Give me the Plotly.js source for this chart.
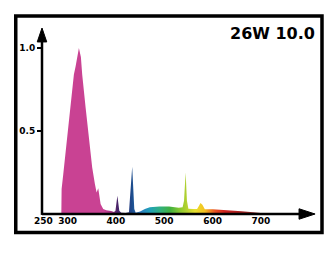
<!DOCTYPE html>
<html>
<head>
<meta charset="utf-8">
<script src="https://cdn.plot.ly/plotly-3.0.1.min.js"></script>
<style>
html,body{margin:0;padding:0;background:#fff;}
#chart{width:336px;height:253px;}
</style>
</head>
<body>
<div id="chart"></div>
<script>
// ---- data ----
var chartTitle = "26W 10.0";
var wavelengths = [287, 287.6, 291, 298, 306, 313, 316.6, 318.6, 323.4, 327.5, 330.2, 337.3, 344.7, 350.9, 356.5, 360, 363.4, 365.4, 368.3, 373.7, 380, 390, 396, 399, 403, 407, 411, 420, 427, 433.7, 438, 441, 450, 460, 470, 490, 510, 530, 538, 541, 544.3, 547, 550, 560, 568, 572, 575, 579, 584, 600, 620, 642, 660, 684, 705, 720];
var intensity   = [0, 0.15, 0.24, 0.44, 0.64, 0.84, 0.89, 0.92, 1.0, 0.945, 0.84, 0.64, 0.44, 0.28, 0.18, 0.13, 0.155, 0.10, 0.06, 0.03, 0.022, 0.018, 0.012, 0.02, 0.11, 0.02, 0.008, 0.006, 0.01, 0.285, 0.03, 0.008, 0.015, 0.03, 0.04, 0.045, 0.045, 0.038, 0.04, 0.08, 0.25, 0.08, 0.032, 0.03, 0.03, 0.05, 0.066, 0.055, 0.028, 0.028, 0.025, 0.022, 0.016, 0.01, 0.005, 0];
var xTickVals  = [250, 300, 400, 500, 600, 700];
var xTickText  = ["250", "300", "400", "500", "600", "700"];
var yTickVals  = [0.5, 1.0];
var yTickText  = ["0.5", "1.0"];
// spectral colour stops (wavelength -> colour)
var colorStopNm  = [285, 375, 392, 402, 418, 433, 450, 470, 491, 512, 532, 545, 564, 584, 605, 626, 657, 698, 730];
var colorStopCol = ["#c94293", "#c94293", "#a03082", "#4a2468", "#3a2a78", "#1c4c8c", "#2c78c0", "#20a0b8", "#30b080", "#40b040", "#88c830", "#b0d030", "#e8e030", "#f5c020", "#e85020", "#cc2020", "#a82020", "#803030", "#703030"];

var gStart = colorStopNm[0], gStop = colorStopNm[colorStopNm.length - 1];
var colorscale = colorStopNm.map(function (nm, i) {
  return [(nm - gStart) / (gStop - gStart), colorStopCol[i]];
});

var trace = {
  type: "scatter",
  mode: "lines",
  x: wavelengths,
  y: intensity,
  line: {width: 0, color: "rgba(0,0,0,0)"},
  fill: "tozeroy",
  fillcolor: "#c94293",
  fillgradient: {type: "horizontal", colorscale: colorscale, start: gStart, stop: gStop},
  hoverinfo: "skip"
};

var tickFont = {family: "DejaVu Sans", size: 9, color: "#000", weight: "bold"};

var layout = {
  width: 336, height: 253,
  margin: {l: 42, r: 22, t: 28, b: 39},
  paper_bgcolor: "#fff",
  plot_bgcolor: "#fff",
  showlegend: false,
  xaxis: {
    range: [247, 810], showgrid: false, zeroline: false, showline: false,
    tickmode: "array", tickvals: xTickVals, ticktext: xTickText,
    ticks: "", tickfont: tickFont, fixedrange: true
  },
  yaxis: {
    range: [0, 1.12], showgrid: false, zeroline: false, showline: false,
    tickmode: "array", tickvals: yTickVals, ticktext: yTickText,
    ticks: "outside", ticklen: 4, tickwidth: 1.5, tickcolor: "#000",
    tickfont: tickFont, fixedrange: true
  },
  shapes: [
    // outer frame
    {type: "rect", xref: "paper", yref: "paper", x0: -0.0965, x1: 1.0294, y0: -0.0995, y1: 1.0645,
     line: {color: "#000", width: 3.5}, layer: "above"},
    // y axis line
    {type: "line", xref: "paper", yref: "paper", x0: 0, x1: 0, y0: -0.005, y1: 0.93,
     line: {color: "#000", width: 2.5}, layer: "above"},
    // y arrow head
    {type: "path", xref: "paper", yref: "paper", path: "M -0.0175 0.925 L 0 1.0 L 0.0175 0.925 Z",
     fillcolor: "#000", line: {color: "#000", width: 1}, layer: "above"},
    // x axis line
    {type: "line", xref: "paper", yref: "paper", x0: 0, x1: 0.95, y0: 0, y1: 0,
     line: {color: "#000", width: 2.5}, layer: "above"},
    // x arrow head
    {type: "path", xref: "paper", yref: "paper", path: "M 0.945 0.028 L 1.004 0 L 0.945 -0.028 Z",
     fillcolor: "#000", line: {color: "#000", width: 1}, layer: "above"}
  ],
  annotations: [
    {text: chartTitle, xref: "paper", yref: "paper", x: 1.011, y: 0.968,
     xanchor: "right", yanchor: "middle", showarrow: false,
     font: {family: "DejaVu Sans", size: 16, color: "#000", weight: "bold"}}
  ]
};

Plotly.newPlot("chart", [trace], layout, {staticPlot: true, displayModeBar: false});
</script>
</body>
</html>
